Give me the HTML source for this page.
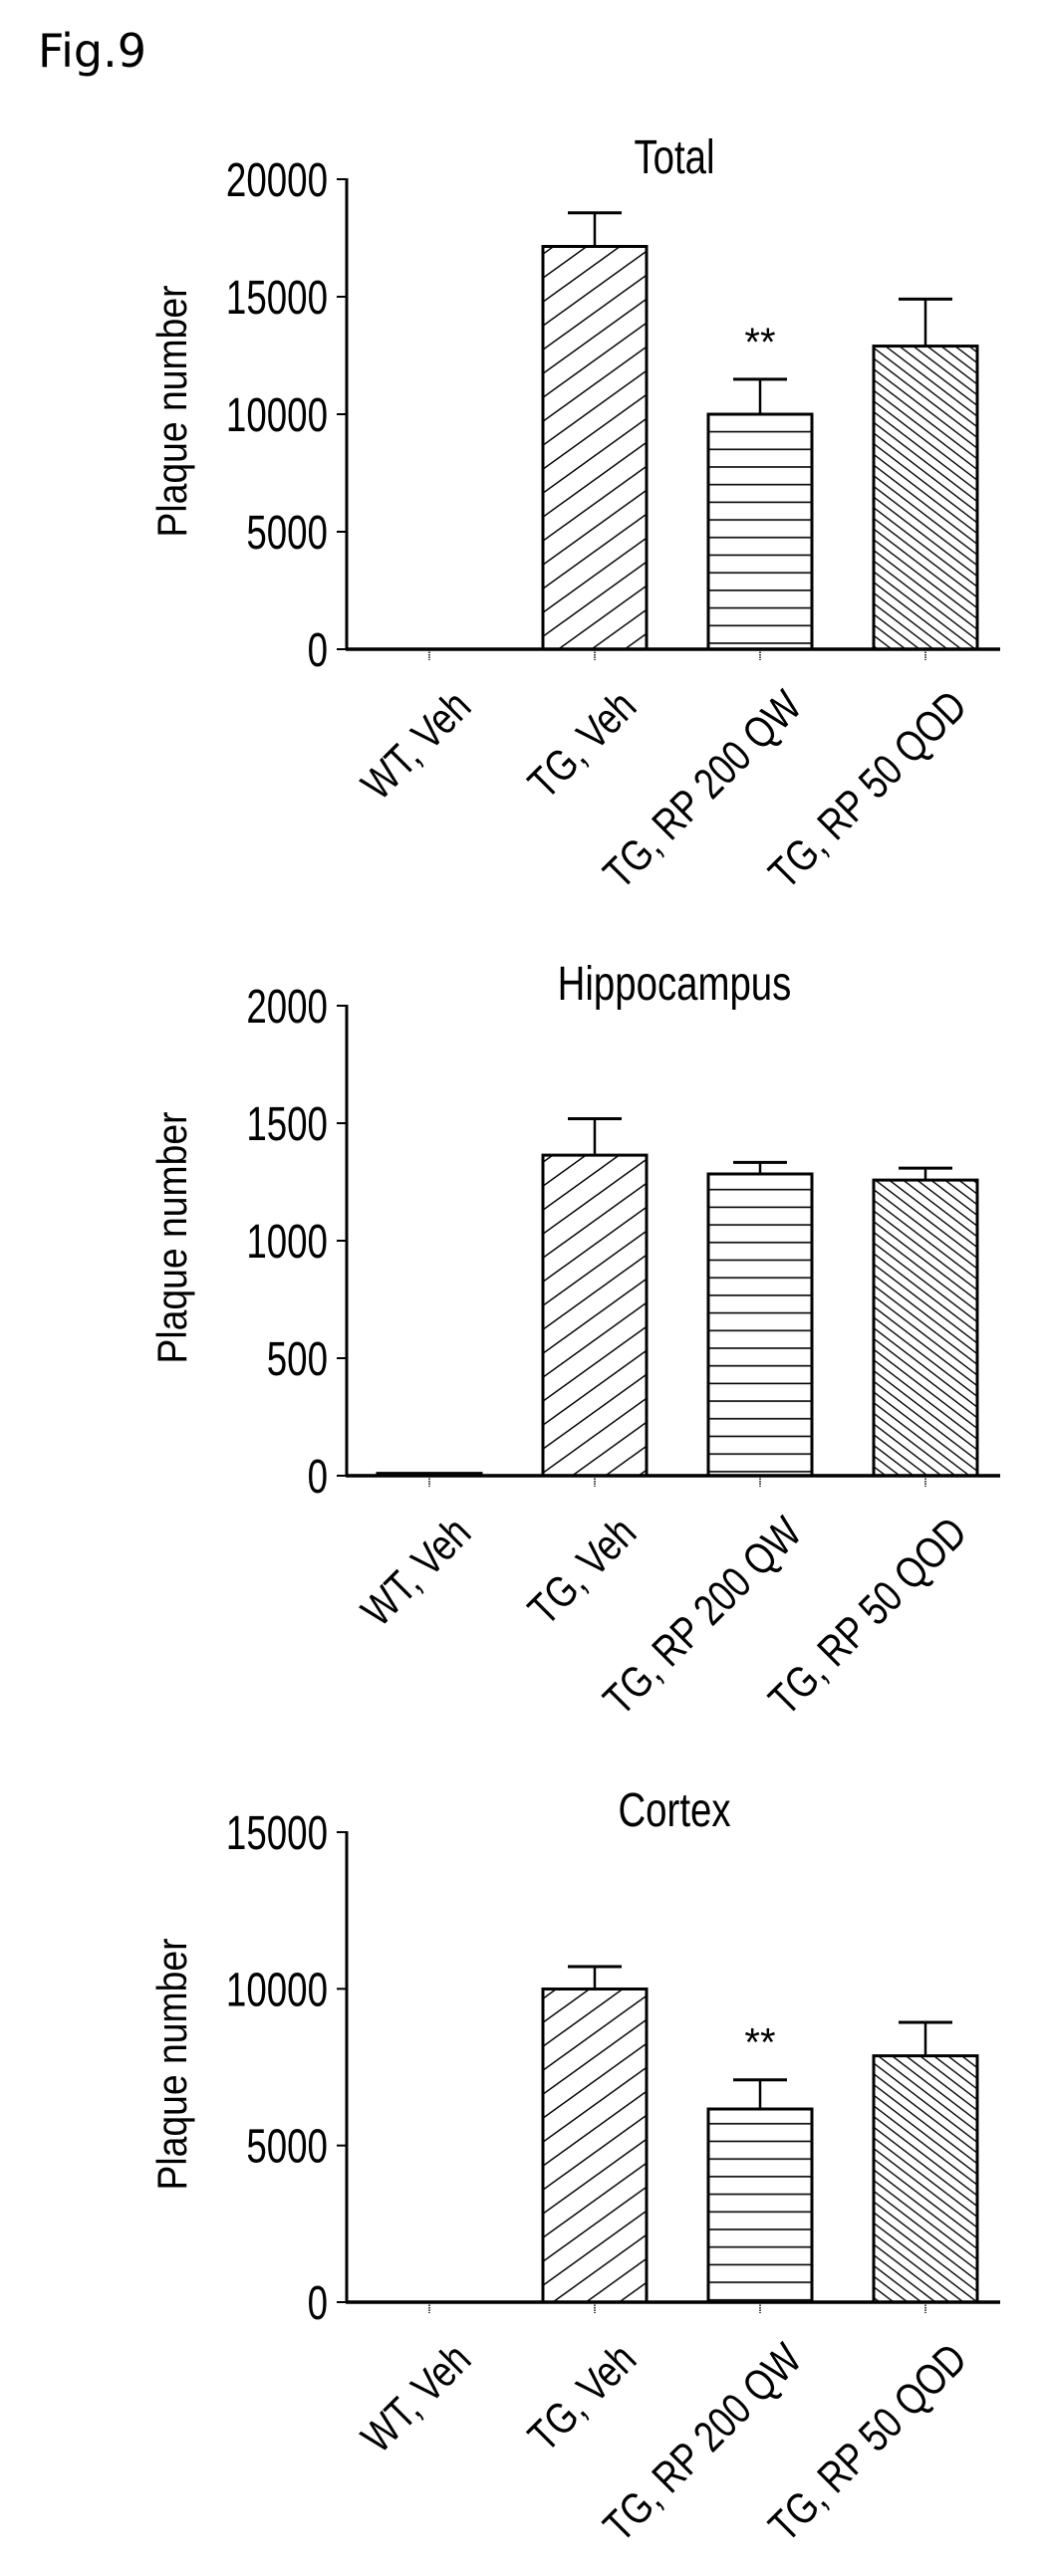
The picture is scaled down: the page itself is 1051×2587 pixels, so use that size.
<!DOCTYPE html>
<html><head><meta charset="utf-8"><style>
html,body{margin:0;padding:0;background:#fff;}
svg{display:block;}
text{font-family:"Liberation Sans",sans-serif;fill:#000;}
</style></head>
<body>
<svg id="fig" width="1051" height="2587" viewBox="0 0 1051 2587" xmlns="http://www.w3.org/2000/svg">
<defs>
<pattern id="hatchFwd" patternUnits="userSpaceOnUse" width="33.3" height="24">
<line x1="-33.3" y1="48" x2="66.6" y2="-24" stroke="#000" stroke-width="1.5"/>
<line x1="-33.3" y1="24" x2="33.3" y2="-24" stroke="#000" stroke-width="1.5"/>
<line x1="0" y1="48" x2="66.6" y2="0" stroke="#000" stroke-width="1.5"/>
</pattern>
<pattern id="hatchH" patternUnits="userSpaceOnUse" width="20" height="17.7">
<line x1="0" y1="8.8" x2="20" y2="8.8" stroke="#000" stroke-width="1.5"/>
</pattern>
<pattern id="hatchBack" patternUnits="userSpaceOnUse" width="14" height="10.7">
<line x1="-14" y1="-10.7" x2="28" y2="21.4" stroke="#000" stroke-width="1.4"/>
<line x1="-14" y1="0" x2="14" y2="21.4" stroke="#000" stroke-width="1.4"/>
<line x1="0" y1="-10.7" x2="28" y2="10.7" stroke="#000" stroke-width="1.4"/>
</pattern>
</defs>
<text x="38" y="67" style="font-family:'DejaVu Sans',sans-serif;font-size:46px;">Fig.9</text>
</svg>
<script>
var categories = ["WT, Veh", "TG, Veh", "TG, RP 200 QW", "TG, RP 50 QOD"];
var totalValues = [0, 17140, 10000, 12900];
var totalErrors = [0, 1430, 1490, 2000];
var hippoValues = [10, 1364, 1284, 1258];
var hippoErrors = [0, 155, 49, 51];
var cortexValues = [0, 9995, 6165, 7862];
var cortexErrors = [0, 715, 931, 1068];
var totalTicks = [0, 5000, 10000, 15000, 20000];
var hippoTicks = [0, 500, 1000, 1500, 2000];
var cortexTicks = [0, 5000, 10000, 15000];
var totalSig = ["", "", "**", ""];
var hippoSig = ["", "", "", ""];
var cortexSig = ["", "", "**", ""];

var NS = "http://www.w3.org/2000/svg";
var svg = document.getElementById("fig");
var fills = ["none", "url(#hatchFwd)", "url(#hatchH)", "url(#hatchBack)"];
function mk(tag, attrs, parent){
  var e = document.createElementNS(NS, tag);
  for (var k in attrs) e.setAttribute(k, attrs[k]);
  (parent || svg).appendChild(e);
  return e;
}
function xCenter(i){ return 431 + i * 166; }

function drawChart(key, title, zeroY, maxV, ticks, values, errors, sig){
  var g = mk("g", {});
  
  
  var plotH = 472;
  function yScale(v){ return zeroY - v / maxV * plotH; }
  var axisX = 348, axisEnd = 1004;

  var t = mk("text", {x: 677, y: zeroY - 495 + 17, "text-anchor": "middle",
    "font-size": 48, transform: "translate(677 0) scale(0.8 1) translate(-677 0)"}, g);
  t.textContent = title;
  
  

  var yt = mk("text", {x: 0, y: 0, "text-anchor": "middle", "font-size": 42,
    textLength: 253, lengthAdjust: "spacingAndGlyphs",
    transform: "translate(187 " + (zeroY - 239) + ") rotate(-90)"}, g);
  yt.textContent = "Plaque number";
  
  

  ticks.forEach(function(v){
    var y = yScale(v);
    var tk = mk("line", {x1: axisX - 10, y1: y, x2: axisX, y2: y, stroke: "#000", "stroke-width": 2}, g);
    
    
    var lb = mk("text", {x: 329, y: y + 17, "text-anchor": "end", "font-size": 48,
      transform: "translate(329 0) scale(0.765 1) translate(-329 0)"}, g);
    lb.textContent = String(v);
    
    
  });

  categories.forEach(function(c, i){
    var cx = xCenter(i);
    var v = values[i];
    var top = yScale(v);
    if (v > 0) {
      var errTop = yScale(v + errors[i]);
      if (errors[i] > 0) {
        var el = mk("line", {x1: cx, y1: top, x2: cx, y2: errTop, stroke: "#000", "stroke-width": 2.5}, g);
        
        
        var cap = mk("line", {x1: cx - 27, y1: errTop, x2: cx + 27, y2: errTop, stroke: "#000", "stroke-width": 3}, g);
        
        
      }
      var r = mk("rect", {x: cx - 52, y: top, width: 104, height: zeroY - top,
        fill: fills[i], stroke: "#000", "stroke-width": 3}, g);
      
      
      if (sig[i]) {
        var s = mk("text", {x: cx, y: errTop - 40 + 16, "text-anchor": "middle", "font-size": 40}, g);
        s.textContent = sig[i];
        
        
      }
    }
    var ct = mk("line", {x1: cx, y1: zeroY, x2: cx, y2: zeroY + 11, stroke: "#000", "stroke-width": 1.5, "stroke-dasharray": "1.5 1"}, g);
    
    
    var ax = cx + 44, ay = zeroY + 60;
    var lb = mk("text", {x: 0, y: 0, "text-anchor": "end", "font-size": 44,
      transform: "translate(" + ax + " " + ay + ") rotate(-45) scale(0.81 1)"}, g);
    lb.textContent = c;
    
    
  });

  var ya = mk("line", {x1: axisX, y1: yScale(maxV) - 1, x2: axisX, y2: zeroY, stroke: "#000", "stroke-width": 3}, g);
  
  
  var xa = mk("line", {x1: axisX - 1, y1: zeroY, x2: axisEnd, y2: zeroY, stroke: "#000", "stroke-width": 3.5}, g);
  
  
}

drawChart("total", "Total", 652, 20000, totalTicks, totalValues, totalErrors, totalSig);
drawChart("hippocampus", "Hippocampus", 1482, 2000, hippoTicks, hippoValues, hippoErrors, hippoSig);
drawChart("cortex", "Cortex", 2312, 15000, cortexTicks, cortexValues, cortexErrors, cortexSig);
</script>
</body></html>
